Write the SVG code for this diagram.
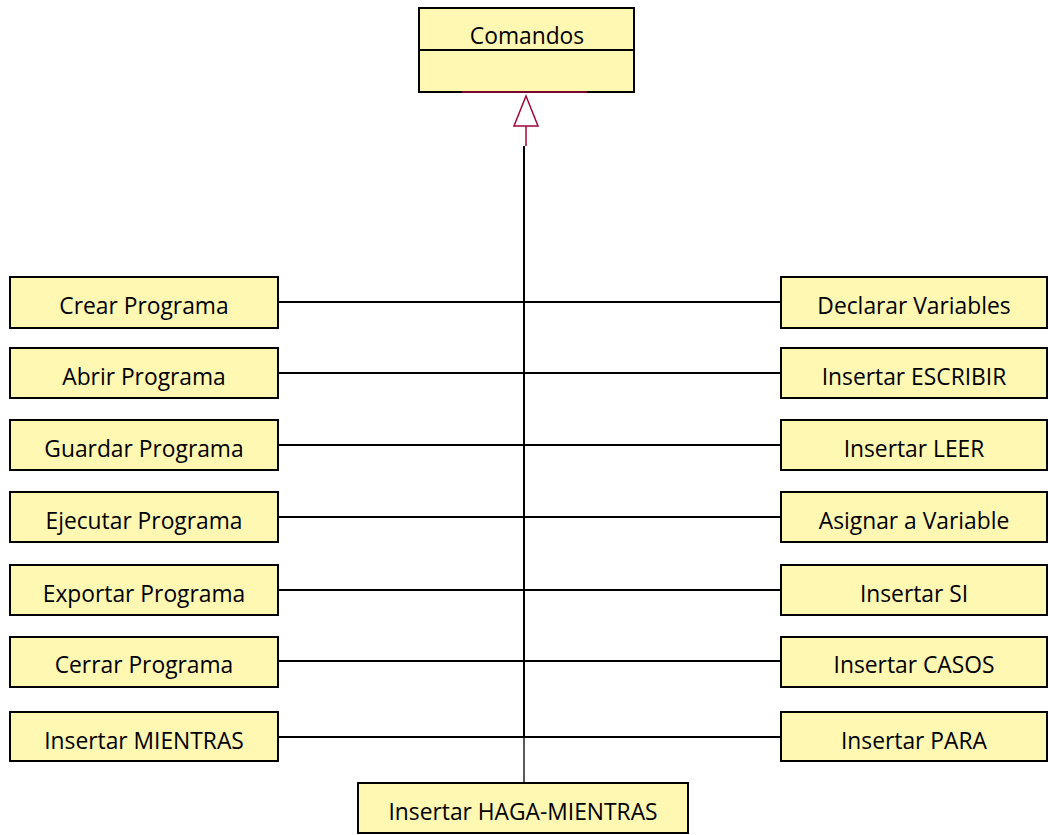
<svg xmlns="http://www.w3.org/2000/svg" width="1048" height="835" viewBox="0 0 1048 835">
  <style>
    .box { fill: #FEF8B2; stroke: #000; stroke-width: 2; }
    .lbl { font-family: "Open Sans", "Liberation Sans", sans-serif; font-size: 22.8px; fill: #000; text-anchor: middle; }
    .wire { stroke: #000; stroke-width: 2; fill: none; }
    .gen { stroke: #A0063A; stroke-width: 1.5; fill: #fff; }
  </style>
  <rect width="1048" height="835" fill="#fff"/>

  <!-- connectors -->
  <g id="connectors">
    <line class="wire" x1="524" y1="146" x2="524" y2="737"/>
    <line x1="524" y1="737" x2="524" y2="783" stroke="#000" stroke-width="1.3"/>
    <line class="wire" x1="278" y1="302" x2="781" y2="302"/>
    <line class="wire" x1="278" y1="373" x2="781" y2="373"/>
    <line class="wire" x1="278" y1="445" x2="781" y2="445"/>
    <line class="wire" x1="278" y1="517" x2="781" y2="517"/>
    <line class="wire" x1="278" y1="590" x2="781" y2="590"/>
    <line class="wire" x1="278" y1="661" x2="781" y2="661"/>
    <line class="wire" x1="278" y1="737" x2="781" y2="737"/>
    <!-- generalisation arrow -->
    <line x1="526" y1="126" x2="526" y2="146" stroke="#A0063A" stroke-width="1.5"/>
    <polygon class="gen" points="526,96 514,126 538,126"/>
  </g>

  <!-- superclass -->
  <g id="comandos">
    <rect class="box" x="419" y="8" width="215" height="84"/>
    <line x1="419" y1="50" x2="634" y2="50" stroke="#000" stroke-width="2"/>
    <line x1="462" y1="92" x2="587" y2="92" stroke="#A0063A" stroke-width="1.5"/>
    <text class="lbl" x="527" y="44">Comandos</text>
  </g>

  <!-- left column -->
  <g id="crear-programa"><rect class="box" x="10" y="277" width="268" height="51"/><text class="lbl" x="144" y="314">Crear Programa</text></g>
  <g id="abrir-programa"><rect class="box" x="10" y="348" width="268" height="50"/><text class="lbl" x="144" y="385">Abrir Programa</text></g>
  <g id="guardar-programa"><rect class="box" x="10" y="420" width="268" height="50"/><text class="lbl" x="144" y="457">Guardar Programa</text></g>
  <g id="ejecutar-programa"><rect class="box" x="10" y="492" width="268" height="50"/><text class="lbl" x="144" y="529">Ejecutar Programa</text></g>
  <g id="exportar-programa"><rect class="box" x="10" y="565" width="268" height="50"/><text class="lbl" x="144" y="602">Exportar Programa</text></g>
  <g id="cerrar-programa"><rect class="box" x="10" y="637" width="268" height="50"/><text class="lbl" x="144" y="673">Cerrar Programa</text></g>
  <g id="insertar-mientras"><rect class="box" x="10" y="712" width="268" height="49"/><text class="lbl" x="144" y="749">Insertar MIENTRAS</text></g>

  <!-- right column -->
  <g id="declarar-variables"><rect class="box" x="781" y="277" width="266" height="51"/><text class="lbl" x="914" y="314">Declarar Variables</text></g>
  <g id="insertar-escribir"><rect class="box" x="781" y="348" width="266" height="50"/><text class="lbl" x="914" y="385">Insertar ESCRIBIR</text></g>
  <g id="insertar-leer"><rect class="box" x="781" y="420" width="266" height="50"/><text class="lbl" x="914" y="457">Insertar LEER</text></g>
  <g id="asignar-variable"><rect class="box" x="781" y="492" width="266" height="50"/><text class="lbl" x="914" y="529">Asignar a Variable</text></g>
  <g id="insertar-si"><rect class="box" x="781" y="565" width="266" height="50"/><text class="lbl" x="914" y="602">Insertar SI</text></g>
  <g id="insertar-casos"><rect class="box" x="781" y="637" width="266" height="50"/><text class="lbl" x="914" y="673">Insertar CASOS</text></g>
  <g id="insertar-para"><rect class="box" x="781" y="712" width="266" height="49"/><text class="lbl" x="914" y="749">Insertar PARA</text></g>

  <!-- bottom -->
  <g id="insertar-haga-mientras"><rect class="box" x="358" y="783" width="330" height="50"/><text class="lbl" x="523" y="820">Insertar HAGA-MIENTRAS</text></g>
</svg>
